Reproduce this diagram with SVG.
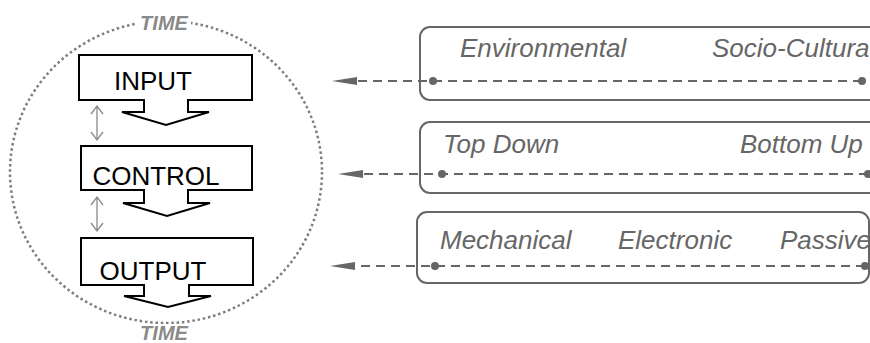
<svg xmlns="http://www.w3.org/2000/svg" width="870" height="343" viewBox="0 0 870 343">
<style>
.stage{fill:#fff;stroke:#000;stroke-width:2;stroke-linejoin:miter}
.stxt{font-family:"Liberation Sans",Arial,sans-serif;font-size:26px;fill:#000;text-anchor:middle}
.time{font-family:"Liberation Sans",Arial,sans-serif;font-size:20px;font-weight:bold;font-style:italic;fill:#8a8a8a;text-anchor:middle}
.panel{fill:#fff;stroke:#666;stroke-width:2}
.ptxt{font-family:"Liberation Sans",Arial,sans-serif;font-size:26px;font-style:italic;fill:#666}
.conn{fill:none;stroke:#666;stroke-width:2;stroke-dasharray:9 6}
.dot{fill:#666}
.dbl{fill:none;stroke:#8a8a8a;stroke-width:1.3}
</style>
<defs>
<marker id="ah" markerUnits="userSpaceOnUse" markerWidth="26" markerHeight="10" viewBox="0 0 26 10" refX="0" refY="5" orient="auto" overflow="visible">
<path d="M0,1 L25,5 L0,9 Z" fill="#666"/>
</marker>
</defs>
<rect width="870" height="343" fill="#fff"/>
<g id="time-cycle">
<ellipse cx="166" cy="172" rx="156" ry="151" fill="none" stroke="#7d7d7d" stroke-width="2.5" stroke-dasharray="2.5 2.8"/>
<rect x="137" y="12" width="54" height="20" fill="#fff"/>
<text class="time" x="164" y="30">TIME</text>
<rect x="137" y="324" width="54" height="19" fill="#fff"/>
<text class="time" x="164" y="340">TIME</text>
</g>
<g id="input">
<path class="stage" d="M79,55 H252 V100 H188 V112 H209 L166,125 L122,112 H144 V100 H79 Z"/>
<text class="stxt" x="153" y="90">INPUT</text>
</g>
<g id="control">
<path class="stage" d="M81,146 H252 V190 H188 V203 H210 L167,216 L123,203 H144 V190 H81 Z"/>
<text class="stxt" x="156" y="185">CONTROL</text>
</g>
<g id="output">
<path class="stage" d="M81,238 H253 V285 H189 V296 H211 L168,307 L124,296 H144 V285 H81 Z"/>
<text class="stxt" x="153" y="280">OUTPUT</text>
</g>
<g id="panel-source">
<rect class="panel" x="420" y="27" width="470" height="73" rx="10"/>
<text class="ptxt" x="460" y="57">Environmental</text>
<text class="ptxt" x="712" y="57">Socio-Cultura</text>
</g>
<g id="panel-direction">
<rect class="panel" x="420" y="122" width="470" height="71" rx="10"/>
<text class="ptxt" x="443" y="153">Top Down</text>
<text class="ptxt" x="740" y="153">Bottom Up</text>
</g>
<g id="panel-means">
<rect class="panel" x="417" y="212" width="452" height="71" rx="10"/>
<text class="ptxt" x="440" y="249">Mechanical</text>
<text class="ptxt" x="618" y="249">Electronic</text>
<text class="ptxt" x="780" y="249">Passive</text>
</g>
<g id="connectors">
<path class="dbl" d="M97,106 V140 M91,114 L97,106 L103,114 M91,132 L97,140 L103,132"/>
<path class="dbl" d="M97,197 V231 M91,205 L97,197 L103,205 M91,223 L97,231 L103,223"/>
<path class="conn" d="M862,81 H357" marker-end="url(#ah)"/>
<circle class="dot" cx="433" cy="81" r="4"/>
<circle class="dot" cx="862" cy="81" r="4"/>
<path class="conn" d="M868,174 H363" marker-end="url(#ah)"/>
<circle class="dot" cx="442" cy="174" r="4"/>
<circle class="dot" cx="868" cy="174" r="4"/>
<path class="conn" d="M865,266 H355" marker-end="url(#ah)"/>
<circle class="dot" cx="435" cy="266" r="4"/>
<circle class="dot" cx="865" cy="266" r="4"/>
</g>
</svg>
